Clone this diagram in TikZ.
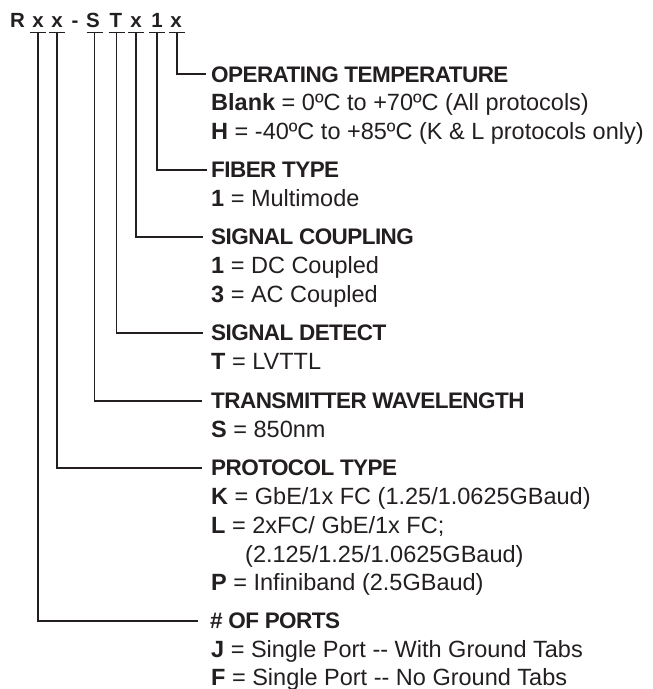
\documentclass[tikz,border=0pt]{standalone}
\usepackage{fontspec}
\setmainfont{Liberation Sans}
\newfontfamily\headfont[LetterSpace=-2.5]{Liberation Sans}
\definecolor{ink}{HTML}{231F20}
\begin{document}
\begin{tikzpicture}[x=1pt,y=-1pt,
  conn/.style={line width=1.8pt, draw=ink},
  letter/.style={anchor=base, inner sep=0pt, font=\fontsize{20.5}{22}\selectfont\bfseries, text=ink},
  head/.style={anchor=base west, inner sep=0pt, font=\headfont\fontsize{22.5}{24}\selectfont\bfseries, text=ink},
  body/.style={anchor=base west, inner sep=0pt, font=\fontsize{23.5}{26}\selectfont, text=ink}]
\useasboundingbox (0,0) rectangle (653,689);
% title letters
\node[letter] (l1) at (17.5,27) {R};
\node[letter] (l2) at (38,27) {x};
\node[letter] (l3) at (57,27) {x};
\node[letter] (l4) at (75,27) {-};
\node[letter] (l5) at (93,27) {S};
\node[letter] (l6) at (116,27) {T};
\node[letter] (l7) at (136,27) {x};
\node[letter] (l8) at (157,27) {1};
\node[letter] (l9) at (176,27) {x};
% tee points
\coordinate (t2) at (38,32.5);
\coordinate (t3) at (57,32.5);
\coordinate (t5) at (94.5,32.5);
\coordinate (t6) at (116.5,32.5);
\coordinate (t7) at (136,32.5);
\coordinate (t8) at (157,32.5);
\coordinate (t9) at (177,32.5);
% headings and bodies
\node[head] (hOT) at (211,82) {OPERATING TEMPERATURE};
\node[body] (bOT1) at (211,110) {\textbf{Blank} = 0ºC to +70ºC (All protocols)};
\node[body] (bOT2) at (211,139) {\textbf{H} = -40ºC to +85ºC (K \& L protocols only)};
\node[head] (hFT) at (211,177.5) {FIBER TYPE};
\node[body] (bFT1) at (211,206) {\textbf{1} = Multimode};
\node[head] (hSC) at (211,244.5) {SIGNAL COUPLING};
\node[body] (bSC1) at (211,273) {\textbf{1} = DC Coupled};
\node[body] (bSC2) at (211,302) {\textbf{3} = AC Coupled};
\node[head] (hSD) at (211,340.5) {SIGNAL DETECT};
\node[body] (bSD1) at (211,369) {\textbf{T} = LVTTL};
\node[head] (hTW) at (211,408.5) {TRANSMITTER WAVELENGTH};
\node[body] (bTW1) at (211,437) {\textbf{S} = 850nm};
\node[head] (hPT) at (211,475.5) {PROTOCOL TYPE};
\node[body] (bPT1) at (211,504) {\textbf{K} = GbE/1x FC (1.25/1.0625GBaud)};
\node[body] (bPT2) at (211,533) {\textbf{L} = 2xFC/ GbE/1x FC;};
\node[body] (bPT3) at (245,562) {(2.125/1.25/1.0625GBaud)};
\node[body] (bPT4) at (211,590) {\textbf{P} = Infiniband (2.5GBaud)};
\node[head] (hPO) at (210,628.5) {\# OF PORTS};
\node[body] (bPO1) at (211,657) {\textbf{J} = Single Port -{}- With Ground Tabs};
\node[body] (bPO2) at (211,685) {\textbf{F} = Single Port -{}- No Ground Tabs};
% tee bars
\foreach \t in {t2,t3,t5,t6,t7,t8,t9}{
  \draw[conn] ([xshift=-8pt]\t) -- ([xshift=8pt]\t);
}
% connectors
\draw[conn] (t9) |- ([xshift=-5pt]hOT.west);
\draw[conn] (t8) |- ([xshift=-4pt]hFT.west);
\draw[conn] (t7) |- ([xshift=-8pt]hSC.west);
\draw[conn] (t6) |- ([xshift=-8pt]hSD.west);
\draw[conn] (t5) |- ([xshift=-9pt]hTW.west);
\draw[conn] (t3) |- ([xshift=-9pt]hPT.west);
\draw[conn] (t2) |- ([xshift=-12pt]hPO.west);
\end{tikzpicture}
\end{document}
